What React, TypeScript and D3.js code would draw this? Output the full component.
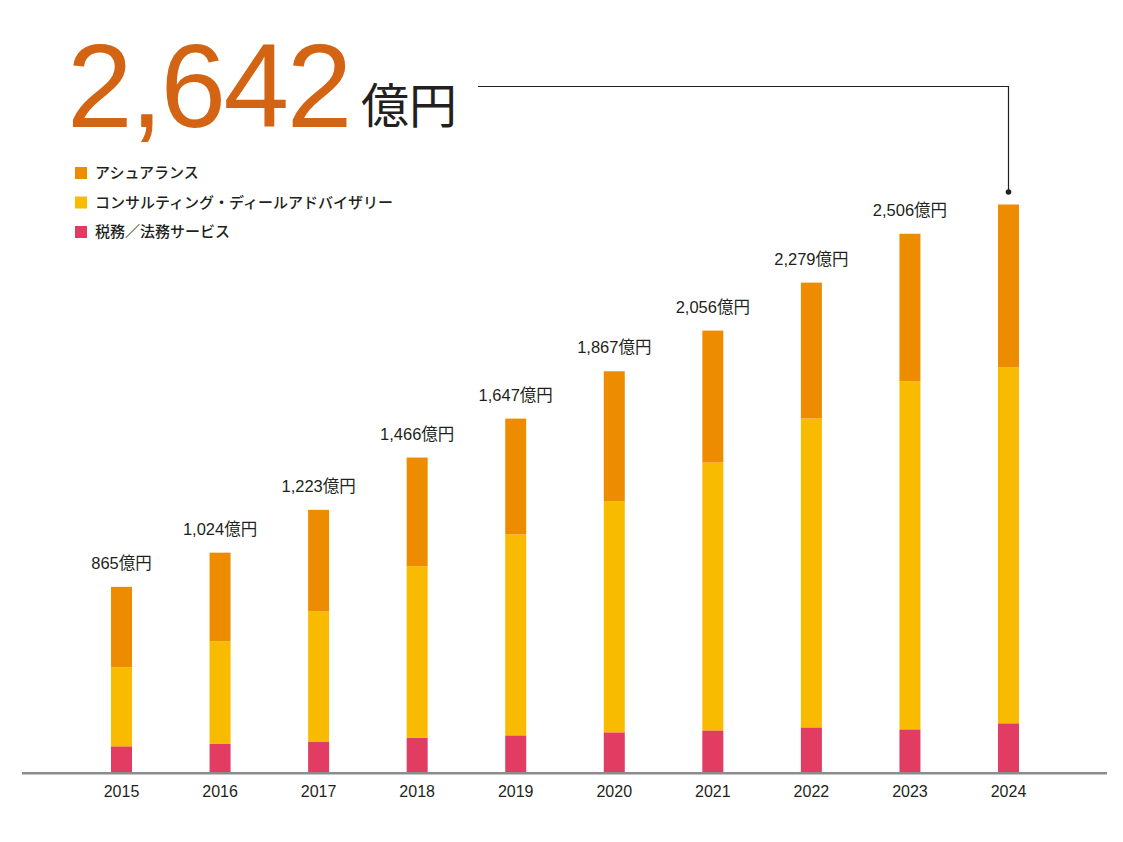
import React from "react";
import * as d3 from "d3";

const years = ["2015", "2016", "2017", "2018", "2019", "2020", "2021", "2022", "2023", "2024"];
const totals = [865, 1024, 1223, 1466, 1647, 1867, 2056, 2279, 2506, 2642];
const tax = [124, 135, 144, 163, 175, 189, 198, 212, 203, 231];
const consulting = [367, 477, 607, 798, 934, 1074, 1245, 1436, 1617, 1654];
const assurance = totals.map((t, i) => t - tax[i] - consulting[i]);

const seriesNames = ["アシュアランス", "コンサルティング・ディールアドバイザリー", "税務／法務サービス"];
const seriesColors = ["#EE8C00", "#F8BB00", "#E23C63"];
const headline = "2,642";
const headlineUnit = "億円";

export default function App() {
  const W = 1123;
  const H = 842;
  const baseline = 773;
  const x = d3.scalePoint<string>().domain(years).range([121.5, 1008.5]);
  const y = d3.scaleLinear().domain([0, 2642]).range([baseline, 204.5]);
  const barW = 21;

  const rows = years.map((yr, i) => ({ year: yr, tax: tax[i], consulting: consulting[i], assurance: assurance[i] }));
  const stack = d3.stack<any>().keys(["tax", "consulting", "assurance"])(rows);
  const colorFor: Record<string, string> = {
    tax: seriesColors[2],
    consulting: seriesColors[1],
    assurance: seriesColors[0],
  };

  const lastX = x("2024")!;
  const numFont = "'Liberation Sans', Arial, 'Noto Sans CJK JP', sans-serif";
  const jpFont = "'Noto Sans CJK JP', sans-serif";

  return (
    <svg width={W} height={H} style={{ position: "absolute", left: 0, top: 0, background: "#fff" }}>
      {/* headline */}
      <text x={67} y={127} fontFamily={numFont} fontSize={118} fill="#D26414" letterSpacing={-2.5}>
        {headline}
      </text>
      <text x={361} y={123} fontFamily={jpFont} fontSize={48} fill="#231F20">
        {headlineUnit}
      </text>
      {/* connector */}
      <path
        d={`M478,86.5 H${lastX} V191`}
        fill="none"
        stroke="#231F20"
        strokeWidth={1.2}
      />
      <circle cx={lastX} cy={192} r={2.8} fill="#231F20" />

      {/* legend */}
      {seriesNames.map((name, i) => (
        <g key={name} transform={`translate(75, ${173 + i * 29.5})`}>
          <rect x={0} y={-6} width={12} height={12} fill={seriesColors[i]} />
          <text x={20} y={0} dy="0.36em" fontFamily={jpFont} fontSize={15} fontWeight={500} fill="#231F20">
            {name}
          </text>
        </g>
      ))}

      {/* bars */}
      {stack.map((layer) => (
        <g key={layer.key} fill={colorFor[layer.key]}>
          {layer.map((d, i) => (
            <rect
              key={i}
              x={x(years[i])! - barW / 2}
              y={y(d[1])}
              width={barW}
              height={y(d[0]) - y(d[1])}
            />
          ))}
        </g>
      ))}

      {/* value labels */}
      {years.slice(0, 9).map((yr, i) => (
        <text
          key={yr}
          x={x(yr)!}
          y={y(totals[i]) - 18}
          textAnchor="middle"
          fontFamily={numFont}
          fontSize={16.5}
          fill="#231F20"
        >
          {d3.format(",")(totals[i]) + "億円"}
        </text>
      ))}

      {/* axis */}
      <line x1={22} x2={1107} y1={baseline + 0.3} y2={baseline + 0.3} stroke="#8C8C8E" strokeWidth={2.6} />
      {years.map((yr) => (
        <text
          key={yr}
          x={x(yr)!}
          y={797}
          textAnchor="middle"
          fontFamily={numFont}
          fontSize={16}
          fill="#231F20"
        >
          {yr}
        </text>
      ))}
    </svg>
  );
}
